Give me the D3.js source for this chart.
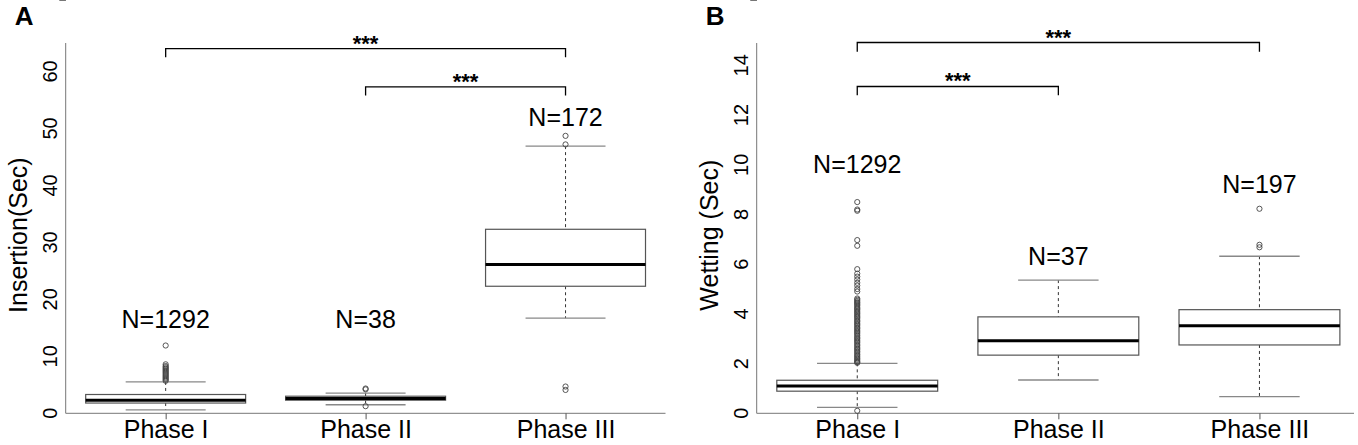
<!DOCTYPE html>
<html>
<head>
<meta charset="utf-8">
<script src="https://cdn.jsdelivr.net/npm/d3@7"></script>
<style>
  body { margin: 0; background: #fff; }
  text { font-family: Arial, "Liberation Sans", sans-serif; fill: #000; }
</style>
</head>
<body>
<div id="container"></div>
<script>
/* DATA */
const phases = ["Phase I", "Phase II", "Phase III"];

// panel A : insertion time (sec)
const insLow = [0.6, 1.5, 16.7],
  insQ1 = [1.8, 2.3, 22.3],
  insMed = [2.3, 2.6, 26.1],
  insQ3 = [3.3, 3.0, 32.3],
  insHigh = [5.5, 3.55, 46.9];
const insOutI = [11.9, 8.6, 8.3, 8.1, 7.9, 7.7, 7.5, 7.3, 7.1, 6.9, 6.7, 6.5, 6.3, 6.1, 5.9, 5.7];
const insOutII = [4.35, 4.2, 1.25];
const insOutIII = [48.7, 47.2, 4.7, 4.1];
const insN = ["N=1292", "N=38", "N=172"];
const insNAt = [15, 15, 50.4];
const insTicks = [0, 10, 20, 30, 40, 50, 60];
const insSig = [[1, 3, 64, 62.5], [2, 3, 57.3, 55.8]]; // from, to, level, foot

// panel B : wetting time (sec)
const wetLow = [0.24, 1.34, 0.67],
  wetQ1 = [0.89, 2.34, 2.75],
  wetMed = [1.1, 2.92, 3.52],
  wetQ3 = [1.33, 3.88, 4.17],
  wetHigh = [2.01, 5.36, 6.32];
const wetOutI = [8.5, 8.2, 8.15, 6.97, 6.74, 5.8, 5.62, 5.5, 5.38, 5.25, 5.14, 5.0, 4.9,
  4.62, 4.57, 4.52, 4.47, 4.43, 4.38, 4.33, 4.27, 4.22, 4.18, 4.12, 4.07, 4.02, 3.96,
  3.91, 3.86, 3.8, 3.74, 3.69, 3.63, 3.58, 3.52, 3.46, 3.41, 3.35, 3.3, 3.24, 3.19,
  3.12, 3.06, 3.01, 2.95, 2.9, 2.84, 2.78, 2.72, 2.66, 2.6, 2.55, 2.49, 2.43, 2.37,
  2.31, 2.26, 2.2, 2.15, 2.1, 2.06, 2.03, 0.1];
const wetOutII = [];
const wetOutIII = [8.23, 6.78, 6.68];
const wetN = ["N=1292", "N=37", "N=197"];
const wetNAt = [9.67, 5.97, 8.88];
const wetTicks = [0, 2, 4, 6, 8, 10, 12, 14];
const wetSig = [[1, 3, 14.92, 14.55], [1, 2, 13.15, 12.8]];

/* LAYOUT */
const W = 1358, H = 445;
const svg = d3.select("#container").append("svg")
  .attr("width", W).attr("height", H);

function panel(opt) {
  const x = d3.scaleLinear().domain([0.5, 3.5]).range(opt.xr);
  const y = d3.scaleLinear().domain([0, opt.ymax]).range([413.3, 43]);
  const g = svg.append("g");
  const halfBox = (x(2) - x(1)) * 0.4;
  const halfCap = halfBox / 2;

  // letter
  g.append("text").attr("x", opt.xr[0] - 51).attr("y", 25)
    .attr("font-size", 26).attr("font-weight", "bold").text(opt.letter);

  // L frame
  g.append("line").attr("x1", x(0.5)).attr("x2", x(0.5))
    .attr("y1", y(0)).attr("y2", y(opt.ymax)).attr("stroke", "#777");
  g.append("line").attr("x1", x(0.5)).attr("x2", Math.min(x(3.5), 1354))
    .attr("y1", y(0)).attr("y2", y(0)).attr("stroke", "#777");

  // y axis
  const ya = g.append("g").attr("transform", `translate(${x(0.5)},0)`)
    .call(d3.axisLeft(y).tickValues(opt.ticks).tickSize(6).tickPadding(8));
  ya.select(".domain").remove();
  ya.selectAll("line").attr("stroke", "#777");
  ya.selectAll("text")
    .attr("font-size", 20).attr("fill", "#000")
    .attr("x", 0).attr("dy", 0)
    .attr("y", -9)
    .attr("text-anchor", "middle")
    .attr("transform", d => `translate(0,${y(d)}) rotate(-90)`);
  ya.selectAll(".tick").attr("transform", null);

  g.append("text")
    .attr("transform", `translate(${opt.xr[0] - 39},${y(opt.ymax / 2) + 7}) rotate(-90)`)
    .attr("text-anchor", "middle").attr("font-size", 25).text(opt.title);

  // x axis ticks and labels
  const xa = g.append("g").attr("transform", `translate(0,${y(0)})`)
    .call(d3.axisBottom(x).tickValues([1, 2, 3]).tickSize(6).tickPadding(4)
      .tickFormat((d, i) => phases[i]));
  xa.select(".domain").remove();
  xa.selectAll("line").attr("stroke", "#555");
  xa.selectAll("text").attr("font-size", 25).attr("fill", "#000")
    .attr("dy", null).attr("y", 25);

  // boxes
  const rows = phases.map((p, i) => ({
    i: i + 1, lo: opt.lo[i], q1: opt.q1[i], med: opt.med[i], q3: opt.q3[i], hi: opt.hi[i]
  }));
  const b = g.selectAll(".box").data(rows).join("g").attr("class", "box");
  b.append("line").attr("x1", d => x(d.i)).attr("x2", d => x(d.i))
    .attr("y1", d => y(d.hi)).attr("y2", d => y(d.q3))
    .attr("stroke", "#333").attr("stroke-dasharray", "3,3");
  b.append("line").attr("x1", d => x(d.i)).attr("x2", d => x(d.i))
    .attr("y1", d => y(d.q1)).attr("y2", d => y(d.lo))
    .attr("stroke", "#333").attr("stroke-dasharray", "3,3");
  b.append("line").attr("x1", d => x(d.i) - halfCap).attr("x2", d => x(d.i) + halfCap)
    .attr("y1", d => y(d.hi)).attr("y2", d => y(d.hi)).attr("stroke", "#888").attr("stroke-width", 1.3);
  b.append("line").attr("x1", d => x(d.i) - halfCap).attr("x2", d => x(d.i) + halfCap)
    .attr("y1", d => y(d.lo)).attr("y2", d => y(d.lo)).attr("stroke", "#888").attr("stroke-width", 1.3);
  b.append("rect").attr("x", d => x(d.i) - halfBox).attr("width", halfBox * 2)
    .attr("y", d => y(d.q3)).attr("height", d => y(d.q1) - y(d.q3))
    .attr("fill", "#fff").attr("stroke", "#555").attr("stroke-width", 1.2);
  b.append("line").attr("x1", d => x(d.i) - halfBox).attr("x2", d => x(d.i) + halfBox)
    .attr("y1", d => y(d.med)).attr("y2", d => y(d.med))
    .attr("stroke", "#000").attr("stroke-width", 3);

  // outliers
  const outs = [];
  opt.outs.forEach((arr, i) => arr.forEach(v => outs.push({ i: i + 1, v })));
  g.selectAll(".out").data(outs).join("circle").attr("class", "out")
    .attr("cx", d => x(d.i)).attr("cy", d => y(d.v)).attr("r", 2.6)
    .attr("fill", "none").attr("stroke", "#444").attr("stroke-width", 0.9);

  // N labels
  g.selectAll(".nlab").data(opt.n).join("text").attr("class", "nlab")
    .attr("x", (d, i) => x(i + 1)).attr("y", (d, i) => y(opt.nAt[i]))
    .attr("text-anchor", "middle").attr("font-size", 25).text(d => d);

  // significance brackets
  opt.sig.forEach(s => {
    g.append("path")
      .attr("d", `M${x(s[0])},${y(s[3])}V${y(s[2])}H${x(s[1])}V${y(s[3])}`)
      .attr("fill", "none").attr("stroke", "#000").attr("stroke-width", 1.3);
    g.append("text").attr("x", (x(s[0]) + x(s[1])) / 2).attr("y", y(s[2]) + 2)
      .attr("text-anchor", "middle").attr("font-size", 22).attr("font-weight", "bold")
      .text("***");
  });
}

panel({
  letter: "A", xr: [65.7, 665.5], ymax: 65, ticks: insTicks, title: "Insertion(Sec)",
  lo: insLow, q1: insQ1, med: insMed, q3: insQ3, hi: insHigh,
  outs: [insOutI, insOutII, insOutIII], n: insN, nAt: insNAt, sig: insSig
});
panel({
  letter: "B", xr: [756.7, 1360], ymax: 14.9, ticks: wetTicks, title: "Wetting (Sec)",
  lo: wetLow, q1: wetQ1, med: wetMed, q3: wetQ3, hi: wetHigh,
  outs: [wetOutI, wetOutII, wetOutIII], n: wetN, nAt: wetNAt, sig: wetSig
});
</script>
</body>
</html>
